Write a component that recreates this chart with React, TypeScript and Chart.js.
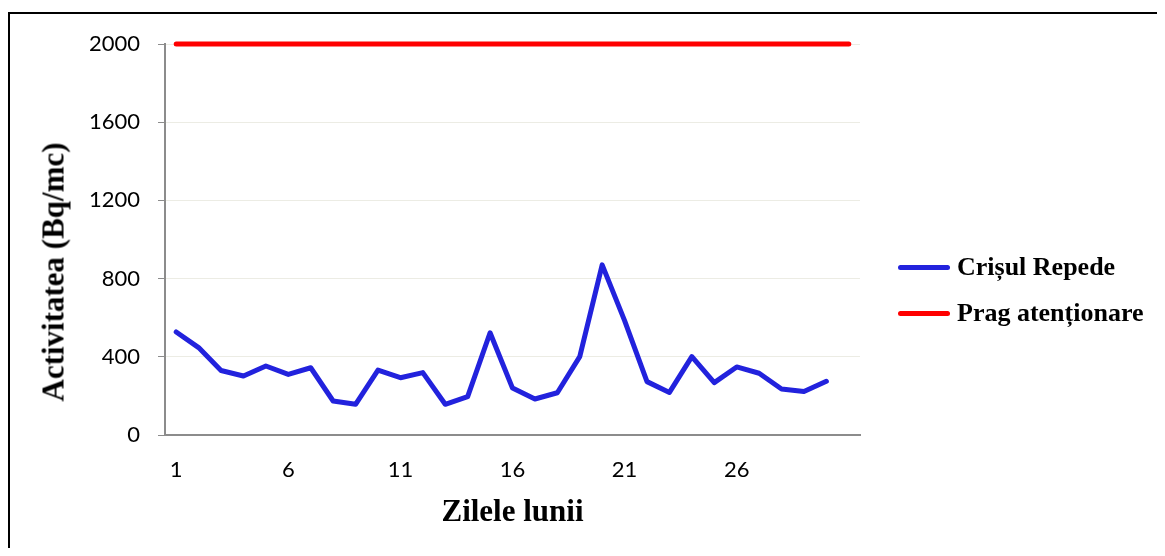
import React, { useEffect, useRef } from "react";
import { Chart, registerables } from "chart.js";

Chart.register(...registerables);

const days: string[] = [
  "1","2","3","4","5","6","7","8","9","10","11","12","13","14","15","16",
  "17","18","19","20","21","22","23","24","25","26","27","28","29","30","31",
];
const crisulRepede: number[] = [
  527, 447, 330, 302, 353, 310, 344, 174, 157, 332, 293, 319, 157, 196, 523,
  240, 184, 216, 401, 870, 585, 273, 218, 401, 268, 348, 316, 235, 222, 275,
];
const pragAtentionare: number[] = [
  2000, 2000, 2000, 2000, 2000, 2000, 2000, 2000, 2000, 2000, 2000, 2000, 2000,
  2000, 2000, 2000, 2000, 2000, 2000, 2000, 2000, 2000, 2000, 2000, 2000, 2000,
  2000, 2000, 2000, 2000, 2000,
];
const xTickLabels: string[] = ["1", "6", "11", "16", "21", "26"];
const seriesNames: string[] = ["Crișul Repede", "Prag atenționare"];
const seriesColors: string[] = ["#2222DD", "#FF0000"];
const yTitle = "Activitatea (Bq/mc)";
const xTitle = "Zilele lunii";

const serif = '"Liberation Serif", "Times New Roman", serif';

export default function App() {
  const ref = useRef<HTMLCanvasElement | null>(null);

  useEffect(() => {
    const canvas = ref.current;
    if (!canvas) return;
    const chart = new Chart(canvas, {
      type: "line",
      data: {
        labels: days,
        datasets: [
          {
            label: seriesNames[0],
            data: crisulRepede,
            borderColor: seriesColors[0],
            backgroundColor: seriesColors[0],
            borderWidth: 5,
            pointRadius: 0,
            borderCapStyle: "round",
            borderJoinStyle: "round",
            tension: 0,
            clip: false,
          },
          {
            label: seriesNames[1],
            data: pragAtentionare,
            borderColor: seriesColors[1],
            backgroundColor: seriesColors[1],
            borderWidth: 5,
            pointRadius: 0,
            borderCapStyle: "round",
            borderJoinStyle: "round",
            tension: 0,
            clip: false,
          },
        ],
      },
      options: {
        animation: false,
        responsive: false,
        devicePixelRatio: 1,
        layout: { padding: { left: 0, top: 36, right: 297, bottom: 0 } },
        plugins: {
          legend: { display: false },
          tooltip: { enabled: false },
        },
        scales: {
          x: {
            offset: true,
            grid: { display: false, drawTicks: false },
            border: { display: true, color: "#8c8c8c", width: 2 },
            ticks: {
              autoSkip: false,
              maxRotation: 0,
              padding: 22,
              color: "#000",
              font: { family: "Lato", size: 22 },
              callback: function (_v: any, i: number) {
                return xTickLabels.includes(days[i]) ? days[i] : "";
              },
            },
            title: {
              display: true,
              text: xTitle,
              color: "#000",
              font: { family: serif, size: 31, weight: "bold" },
              padding: { top: 0, bottom: 16 },
            },
            afterFit: (s: any) => {
              s.height = 113;
            },
          },
          y: {
            min: 0,
            max: 2000,
            grid: {
              color: "#ececE4",
              tickColor: "#8c8c8c",
              tickLength: 7,
              lineWidth: 1,
            },
            border: { display: true, color: "#8c8c8c", width: 2 },
            ticks: {
              stepSize: 400,
              padding: 18,
              color: "#000",
              font: { family: "Lato", size: 22 },
              callback: (v: any) => String(v),
            },
            afterFit: (s: any) => {
              s.width = 157;
            },
          },
        },
      },
    });
    return () => chart.destroy();
  }, []);

  return (
    <div
      style={{
        position: "relative",
        width: 1149,
        height: 540,
        overflow: "hidden",
      }}
    >
      <div
        style={{
          position: "absolute",
          left: 0,
          top: 4,
          width: 1300,
          height: 700,
          borderLeft: "2px solid #000",
          borderTop: "2px solid #000",
          boxSizing: "border-box",
        }}
      />
      <canvas
        ref={ref}
        width={1149}
        height={540}
        style={{ position: "absolute", left: 0, top: 0, width: 1149, height: 540 }}
      />
      <div
        style={{
          position: "absolute",
          left: 45,
          top: 264,
          transform: "translate(-50%, -50%) rotate(-90deg)",
          whiteSpace: "nowrap",
          fontFamily: serif,
          fontWeight: "bold",
          fontSize: 31,
          lineHeight: 1,
          color: "#000",
        }}
      >
        {yTitle}
      </div>
      {seriesNames.map((name, i) => (
        <div
          key={name}
          style={{
            position: "absolute",
            left: 890,
            top: 259 + i * 46,
            transform: "translateY(-50%)",
            display: "flex",
            alignItems: "center",
            whiteSpace: "nowrap",
          }}
        >
          <div
            style={{
              width: 52,
              height: 5,
              borderRadius: 3,
              background: seriesColors[i],
            }}
          />
          <span
            style={{
              marginLeft: 7,
              fontFamily: serif,
              fontWeight: "bold",
              fontSize: 26,
              lineHeight: 1,
              color: "#000",
            }}
          >
            {name}
          </span>
        </div>
      ))}
    </div>
  );
}
